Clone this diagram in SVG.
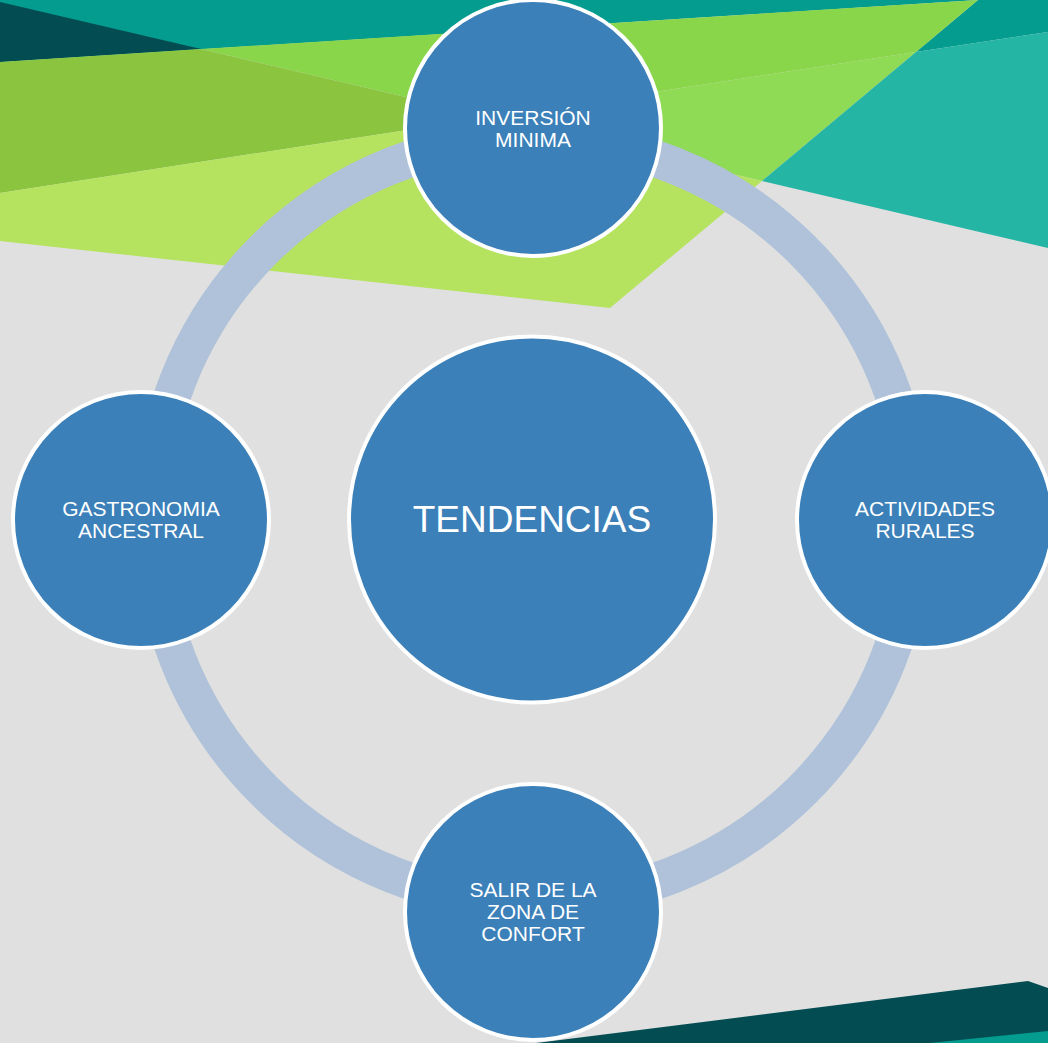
<svg xmlns="http://www.w3.org/2000/svg" width="1048" height="1043" viewBox="0 0 1048 1043">
<style>
.node{fill:#3b80b9;stroke:#ffffff;stroke-width:4}
.lbl{fill:#ffffff;font-family:"Liberation Sans",Arial,sans-serif;font-size:21px;text-anchor:middle}
.big{fill:#ffffff;font-family:"Liberation Sans",Arial,sans-serif;font-size:37px;text-anchor:middle}
</style>
<rect x="0" y="0" width="1048" height="1043" fill="#e0e0e0"/>
<g id="background">
<polygon points="0,0 1048,0 1048,32 916,52 978,0 0,62" fill="#039c8f"/>
<polygon points="0,2 201,49 0,62" fill="#034c52"/>
<polygon points="201,49 978,0 916,52 491,117" fill="#8ad64b"/>
<polygon points="0,62 201,49 491,117 0,193" fill="#8bc540"/>
<polygon points="491,117 916,52 762,181" fill="#90db55"/>
<polygon points="916,52 1048,32 1048,248 762,181" fill="#25b5a5"/>
<polygon points="0,193 491,117 762,181 610,308 0,241" fill="#b5e35f"/>
<polygon points="536,1043 584,1037 1028,981 1048,988 1048,1043" fill="#034c52"/>
<polygon points="930,1043 1048,1031 1048,1043" fill="#039c8f"/>
</g>
<g id="connectors">
<circle cx="533" cy="520" r="381.5" fill="none" stroke="#afc2d9" stroke-width="37"/>
</g>
<g id="node-center">
<circle class="node" cx="532" cy="519.5" r="183"/>
<text class="big" x="532" y="532">TENDENCIAS</text>
</g>
<g id="node-top">
<circle class="node" cx="533" cy="128" r="128"/>
<text class="lbl" x="533" y="125">INVERSIÓN</text>
<text class="lbl" x="533" y="147">MINIMA</text>
</g>
<g id="node-right">
<circle class="node" cx="925" cy="520" r="128"/>
<text class="lbl" x="925" y="516">ACTIVIDADES</text>
<text class="lbl" x="925" y="538">RURALES</text>
</g>
<g id="node-bottom">
<circle class="node" cx="533" cy="912" r="128"/>
<text class="lbl" x="533" y="897">SALIR DE LA</text>
<text class="lbl" x="533" y="919">ZONA DE</text>
<text class="lbl" x="533" y="941">CONFORT</text>
</g>
<g id="node-left">
<circle class="node" cx="141" cy="520" r="128"/>
<text class="lbl" x="141" y="516">GASTRONOMIA</text>
<text class="lbl" x="141" y="538">ANCESTRAL</text>
</g>
</svg>
